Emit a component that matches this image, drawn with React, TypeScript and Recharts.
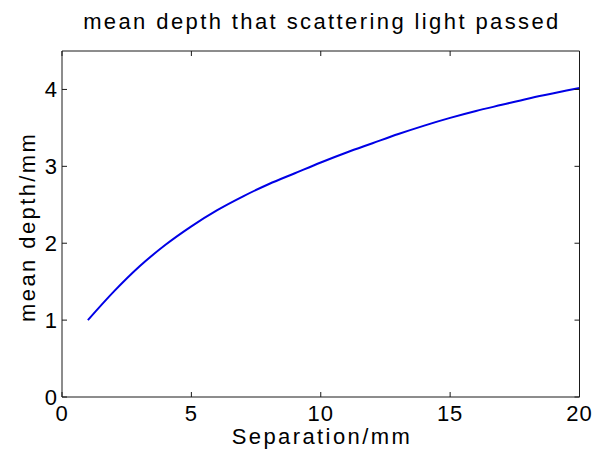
import React from 'react';
import { LineChart, Line, XAxis, YAxis, Label } from 'recharts';

// Source-detector separation (mm) and the mean depth reached by scattered light (mm)
const separation = [1, 2, 3, 4, 5, 6, 7, 8, 9, 10, 11, 12, 13, 14, 15, 16, 17, 18, 19, 20];
const meanDepth = [1.0, 1.37, 1.7, 1.98, 2.22, 2.43, 2.61, 2.77, 2.91, 3.05, 3.18, 3.3, 3.42, 3.53, 3.63, 3.72, 3.8, 3.88, 3.95, 4.02];

const xTicks = [0, 5, 10, 15, 20];
const yTicks = [0, 1, 2, 3, 4];

const titleText = 'mean depth that scattering light passed';
const xLabelText = 'Separation/mm';
const yLabelText = 'mean depth/mm';

const data = separation.map((s, i) => ({ sep: s, depth: meanDepth[i] }));

const FONT = '"Liberation Sans", Arial, Helvetica, sans-serif';
const AXIS_COLOR = '#1a1a1a';
const TICK_LEN = 5;
const TEXT_SIZE = 22;
const SPACING = 2.4;

const BottomTick = (props: any) => {
  const { x, y, payload } = props;
  return (
    <g>
      <line x1={x} y1={y} x2={x} y2={y - TICK_LEN} stroke={AXIS_COLOR} strokeWidth={1} />
      <text x={x} y={y + 24} textAnchor="middle" fontFamily={FONT} fontSize={TEXT_SIZE} fill="#000" letterSpacing={1}>
        {payload.value}
      </text>
    </g>
  );
};

const TopTick = (props: any) => {
  const { x, y } = props;
  return <line x1={x} y1={y} x2={x} y2={y + TICK_LEN} stroke={AXIS_COLOR} strokeWidth={1} />;
};

const LeftTick = (props: any) => {
  const { x, y, payload } = props;
  return (
    <g>
      <line x1={x} y1={y} x2={x + TICK_LEN} y2={y} stroke={AXIS_COLOR} strokeWidth={1} />
      <text x={x - 5} y={y + 8} textAnchor="end" fontFamily={FONT} fontSize={TEXT_SIZE} fill="#000">
        {payload.value}
      </text>
    </g>
  );
};

const RightTick = (props: any) => {
  const { x, y } = props;
  return <line x1={x} y1={y} x2={x - TICK_LEN} y2={y} stroke={AXIS_COLOR} strokeWidth={1} />;
};

const XAxisTitle = (props: any) => {
  const { viewBox } = props;
  const cx = viewBox.x + viewBox.width / 2;
  return (
    <text x={cx + SPACING / 2} y={viewBox.y + 47} textAnchor="middle" fontFamily={FONT} fontSize={TEXT_SIZE} fill="#000" letterSpacing={SPACING}>
      {xLabelText}
    </text>
  );
};

const YAxisTitle = (props: any) => {
  const { viewBox } = props;
  const cy = viewBox.y + viewBox.height / 2 + 4;
  const bx = viewBox.x + 35;
  return (
    <text transform={`translate(${bx},${cy}) rotate(-90)`} x={SPACING / 2} y={0} textAnchor="middle" fontFamily={FONT} fontSize={TEXT_SIZE} fill="#000" letterSpacing={SPACING}>
      {yLabelText}
    </text>
  );
};

export default function App() {
  return (
    <div style={{ position: 'absolute', left: 0, top: 0, width: 595, height: 457, background: '#fff' }}>
      <div
        style={{
          position: 'absolute',
          left: 62,
          top: 10.5,
          width: 517.5,
          textAlign: 'center',
          fontFamily: FONT,
          fontSize: TEXT_SIZE,
          lineHeight: '22px',
          letterSpacing: SPACING,
          paddingLeft: SPACING,
          boxSizing: 'border-box',
          color: '#000',
          whiteSpace: 'nowrap',
        }}
      >
        {titleText}
      </div>
      <LineChart width={595} height={457} data={data} margin={{ top: 50, right: 14.5, bottom: 0, left: 0 }}>
        <XAxis
          xAxisId="bottom"
          dataKey="sep"
          type="number"
          domain={[0, 20]}
          ticks={xTicks}
          orientation="bottom"
          height={60}
          tickSize={0}
          tickMargin={0}
          tickLine={false}
          tick={<BottomTick />}
          axisLine={{ stroke: AXIS_COLOR, strokeWidth: 1 }}
          interval={0}
        >
          <Label content={<XAxisTitle />} />
        </XAxis>
        <XAxis
          xAxisId="top"
          dataKey="sep"
          type="number"
          domain={[0, 20]}
          ticks={xTicks}
          orientation="top"
          height={1}
          tickSize={0}
          tickMargin={0}
          tickLine={false}
          tick={<TopTick />}
          axisLine={{ stroke: AXIS_COLOR, strokeWidth: 1 }}
          interval={0}
        />
        <YAxis
          yAxisId="left"
          type="number"
          domain={[0, 4.5]}
          ticks={yTicks}
          orientation="left"
          width={62}
          tickSize={0}
          tickMargin={0}
          tickLine={false}
          tick={<LeftTick />}
          axisLine={{ stroke: AXIS_COLOR, strokeWidth: 1 }}
          interval={0}
        >
          <Label content={<YAxisTitle />} />
        </YAxis>
        <YAxis
          yAxisId="right"
          type="number"
          domain={[0, 4.5]}
          ticks={yTicks}
          orientation="right"
          width={1}
          tickSize={0}
          tickMargin={0}
          tickLine={false}
          tick={<RightTick />}
          axisLine={{ stroke: AXIS_COLOR, strokeWidth: 1 }}
          interval={0}
        />
        {/* the frame's top and right axes share the same scales; this copy of the series binds them and stays unpainted */}
        <Line
          xAxisId="top"
          yAxisId="right"
          type="monotone"
          dataKey="depth"
          stroke="none"
          dot={false}
          activeDot={false}
          isAnimationActive={false}
        />
        <Line
          xAxisId="bottom"
          yAxisId="left"
          type="monotone"
          dataKey="depth"
          stroke="#0000e6"
          strokeWidth={2}
          dot={false}
          isAnimationActive={false}
        />
      </LineChart>
    </div>
  );
}
